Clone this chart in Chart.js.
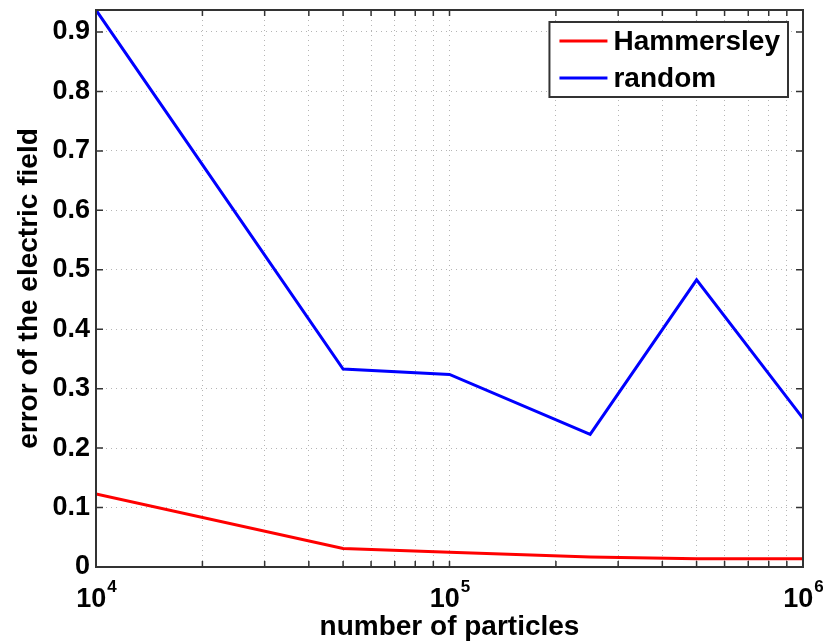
<!DOCTYPE html>
<html>
<head>
<meta charset="utf-8">
<script src="https://cdn.jsdelivr.net/npm/chart.js@4"></script>
<style>
  html, body { margin: 0; padding: 0; background: #fff; }
  #wrap { width: 823px; height: 641px; }
</style>
</head>
<body>
<div id="wrap"><canvas id="chart" width="823" height="641"></canvas></div>
<script>
// number of particles
const xValues = [1e4, 5e4, 1e5, 2.5e5, 5e5, 1e6];
// error of the electric field
const hammersley = [0.123, 0.031, 0.025, 0.017, 0.014, 0.014];
const random = [0.937, 0.333, 0.324, 0.223, 0.483, 0.250];

const seriesNames = ['Hammersley', 'random'];
const seriesColors = ['#ff0000', '#0000ff'];

const xMajorTicks = [1e4, 1e5, 1e6];
const yTicks = [0, 0.1, 0.2, 0.3, 0.4, 0.5, 0.6, 0.7, 0.8, 0.9];
const yMax = 0.937;

const FONT = '"Liberation Sans", Arial, Helvetica, sans-serif';

// minor + major positions on the log axis (1..9 x each decade)
const xGridValues = [];
for (let d = 0; d < xMajorTicks.length - 1; d++) {
    for (let m = 1; m < 10; m++) xGridValues.push(xMajorTicks[d] * m);
}
xGridValues.push(xMajorTicks[xMajorTicks.length - 1]);

function points(ys) {
    return xValues.map((x, i) => ({ x: x, y: ys[i] }));
}

// frame, inward ticks, 10^n labels and the boxed legend
const matlabLook = {
    id: 'matlabLook',
    afterDraw(chart) {
        const ctx = chart.ctx;
        const a = chart.chartArea;
        const xs = chart.scales.x;
        const ys = chart.scales.y;
        ctx.save();

        // inward tick marks
        ctx.strokeStyle = '#333';
        ctx.lineWidth = 1.5;
        ctx.beginPath();
        xGridValues.forEach(v => {
            const px = xs.getPixelForValue(v);
            ctx.moveTo(px, a.bottom); ctx.lineTo(px, a.bottom - 6);
            ctx.moveTo(px, a.top); ctx.lineTo(px, a.top + 6);
        });
        yTicks.forEach(v => {
            const py = ys.getPixelForValue(v);
            ctx.moveTo(a.left, py); ctx.lineTo(a.left + 7, py);
            ctx.moveTo(a.right, py); ctx.lineTo(a.right - 7, py);
        });
        ctx.stroke();

        // frame
        ctx.lineWidth = 2;
        ctx.strokeRect(a.left, a.top, a.right - a.left, a.bottom - a.top);

        // x tick labels as 10 with a raised exponent
        ctx.fillStyle = '#000';
        ctx.textBaseline = 'alphabetic';
        ctx.textAlign = 'left';
        xMajorTicks.forEach(v => {
            const px = xs.getPixelForValue(v);
            const exp = String(Math.round(Math.log10(v)));
            ctx.font = 'bold 27px ' + FONT;
            const wBase = ctx.measureText('10').width;
            ctx.font = 'bold 17px ' + FONT;
            const wExp = ctx.measureText(exp).width;
            const x0 = px - (wBase + wExp) / 2;
            ctx.font = 'bold 27px ' + FONT;
            ctx.fillText('10', x0, a.bottom + 40);
            ctx.font = 'bold 17px ' + FONT;
            ctx.fillText(exp, x0 + wBase + 1, a.bottom + 25);
        });

        // legend box
        ctx.font = 'bold 28px ' + FONT;
        const textW = Math.max(...seriesNames.map(n => ctx.measureText(n).width));
        const boxW = 10 + 48 + 6 + textW + 8;
        const boxH = 75;
        const bx = a.right - 15 - boxW;
        const by = a.top + 12;
        ctx.fillStyle = '#fff';
        ctx.fillRect(bx, by, boxW, boxH);
        ctx.strokeStyle = '#333';
        ctx.lineWidth = 2;
        ctx.strokeRect(bx, by, boxW, boxH);
        ctx.textBaseline = 'middle';
        chart.data.datasets.forEach((ds, i) => {
            const ry = by + 19 + i * 37;
            ctx.strokeStyle = ds.borderColor;
            ctx.lineWidth = 3;
            ctx.beginPath();
            ctx.moveTo(bx + 10, ry);
            ctx.lineTo(bx + 58, ry);
            ctx.stroke();
            ctx.fillStyle = '#000';
            ctx.fillText(ds.label, bx + 64, ry + 1);
        });

        ctx.restore();
    }
};

const ctx = document.getElementById('chart');
new Chart(ctx, {
    type: 'line',
    data: {
        datasets: [
            {
                label: seriesNames[0],
                data: points(hammersley),
                borderColor: seriesColors[0],
                backgroundColor: seriesColors[0],
                borderWidth: 3,
                pointRadius: 0,
                tension: 0
            },
            {
                label: seriesNames[1],
                data: points(random),
                borderColor: seriesColors[1],
                backgroundColor: seriesColors[1],
                borderWidth: 3,
                pointRadius: 0,
                tension: 0
            }
        ]
    },
    options: {
        responsive: false,
        animation: false,
        layout: { padding: { left: 0, right: 20, top: 10, bottom: 0 } },
        plugins: {
            legend: { display: false },
            tooltip: { enabled: false }
        },
        scales: {
            x: {
                type: 'logarithmic',
                min: xMajorTicks[0],
                max: xMajorTicks[xMajorTicks.length - 1],
                afterBuildTicks(scale) {
                    scale.ticks = xGridValues.map(v => ({ value: v }));
                },
                afterFit(scale) {
                    scale.height = 74;
                    scale.paddingLeft = 0;
                    scale.paddingRight = 0;
                },
                ticks: { display: false },
                grid: { color: '#b5b5b5', lineWidth: 1, drawTicks: false },
                border: { display: false, dash: [1, 4] },
                title: {
                    display: true,
                    text: 'number of particles',
                    color: '#000',
                    font: { family: FONT, size: 28, weight: 'bold', lineHeight: 1 },
                    padding: 0
                }
            },
            y: {
                min: 0,
                max: yMax,
                afterBuildTicks(scale) {
                    scale.ticks = yTicks.map(v => ({ value: v }));
                },
                afterFit(scale) {
                    scale.width = 96;
                    scale.paddingTop = 0;
                    scale.paddingBottom = 0;
                },
                ticks: {
                    color: '#000',
                    padding: 6,
                    font: { family: FONT, size: 27, weight: 'bold' },
                    callback: v => (v === 0 ? '0' : v.toFixed(1))
                },
                grid: { color: '#b5b5b5', lineWidth: 1, drawTicks: false },
                border: { display: false, dash: [1, 4] },
                title: {
                    display: true,
                    text: 'error of the electric field',
                    color: '#000',
                    font: { family: FONT, size: 28, weight: 'bold', lineHeight: 1 },
                    padding: { top: 15, bottom: 0 }
                }
            }
        }
    },
    plugins: [matlabLook]
});
</script>
</body>
</html>
